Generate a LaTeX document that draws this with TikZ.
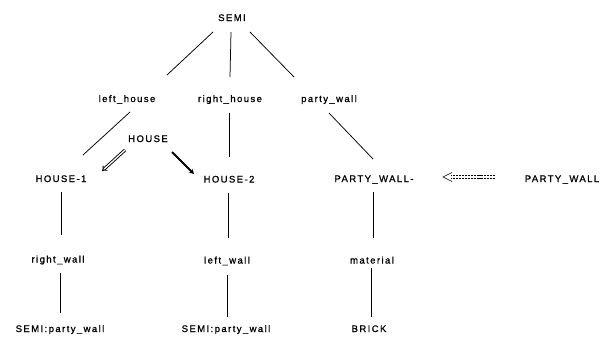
\documentclass[tikz,border=0pt]{standalone}
\usepackage{fontspec}
\setmainfont{Liberation Sans}[LetterSpace=15, FakeBold=1]
\usetikzlibrary{arrows.meta}
\begin{document}
\begin{tikzpicture}[x=1pt,y=-1pt,
  lbl/.style={font=\fontsize{9.5}{11}\selectfont, inner sep=0pt,
              text height=7pt, text depth=2pt},
  edge/.style={line width=0.75pt},
  isa/.style={double, double distance=1.3pt, line width=0.9pt,
              -{Implies}},
  inst/.style={line width=1.8pt, -{Stealth[length=5pt,width=5pt]}},
  copyline/.style={line width=0.6pt, dash pattern=on 2.2pt off 0.9pt},
  copytip/.style={line width=0.6pt}]
\useasboundingbox (0,0) rectangle (612,338);

% nodes of the structure
\node[lbl] (semi)   at (232,18.5)  {SEMI};
\node[lbl] (lh)     at (127,99.5)  {left\_house};
\node[lbl] (rh)     at (230,99.5)  {right\_house};
\node[lbl] (pw)     at (329,99.5)  {party\_wall};
\node[lbl] (house)  at (148,139.5) {HOUSE};
\node[lbl] (h1)     at (61,179.5)  {HOUSE-1};
\node[lbl] (h2)     at (229,180)   {HOUSE-2};
\node[lbl] (pwi)    at (374,179.5) {PARTY\_WALL-};
\node[lbl] (pwc)    at (562,179.5) {PARTY\_WALL};
\node[lbl] (rw)     at (58,260)    {right\_wall};
\node[lbl] (lw)     at (227,261)   {left\_wall};
\node[lbl] (mat)    at (372,261)   {material};
\node[lbl] (spw1)   at (60,329.5)  {SEMI:party\_wall};
\node[lbl] (spw2)   at (226,329.5) {SEMI:party\_wall};
\node[lbl] (brick)  at (369,329.5) {BRICK};

% slot links
\draw[edge] ([shift={(-19,13.5)}]semi.center) -- ([shift={(40,-24.5)}]lh.center);
\draw[edge] ([shift={(-1,13.5)}]semi.center)  -- ([shift={(0,-22.5)}]rh.center);
\draw[edge] ([shift={(18,13.5)}]semi.center)  -- ([shift={(-35,-22.5)}]pw.center);
\draw[edge] ([shift={(3,12.5)}]lh.center)     -- ([shift={(22,-24.5)}]h1.center);
\draw[edge] ([shift={(-1,13.5)}]rh.center)    -- ([shift={(0,-23)}]h2.center);
\draw[edge] ([shift={(0,13.5)}]pw.center)     -- ([shift={(-1,-20.5)}]pwi.center);
\draw[edge] ([shift={(0,12.5)}]h1.center)     -- ([shift={(3,-25)}]rw.center);
\draw[edge] ([shift={(2,13)}]rw.center)       -- ([shift={(0,-16.5)}]spw1.center);
\draw[edge] ([shift={(-1,13)}]h2.center)      -- ([shift={(1,-23)}]lw.center);
\draw[edge] ([shift={(0,14)}]lw.center)       -- ([shift={(1,-12.5)}]spw2.center);
\draw[edge] ([shift={(-1,12.5)}]pwi.center)   -- ([shift={(1,-23)}]mat.center);
\draw[edge] ([shift={(-1,7)}]mat.center)      -- ([shift={(2,-12.5)}]brick.center);

% instance arrows
\draw[isa]  ([shift={(-23,10.5)}]house.center) -- ([shift={(41,-8.5)}]h1.center);
\draw[inst] ([shift={(24,12.5)}]house.center)  -- ([shift={(-35,-6)}]h2.center);

% copy arrow: two dashed strokes closing in a tip
\draw[copyline] ([shift={(-67,-4.2)}]pwc.center) -- ([shift={(77,-4.2)}]pwi.center);
\draw[copyline] ([shift={(-67,-0.8)}]pwc.center) -- ([shift={(77,-0.8)}]pwi.center);
\draw[copytip] ([shift={(78,-7)}]pwi.center) -- ([shift={(69,-2.5)}]pwi.center)
               -- ([shift={(78,2)}]pwi.center);
\end{tikzpicture}
\end{document}
